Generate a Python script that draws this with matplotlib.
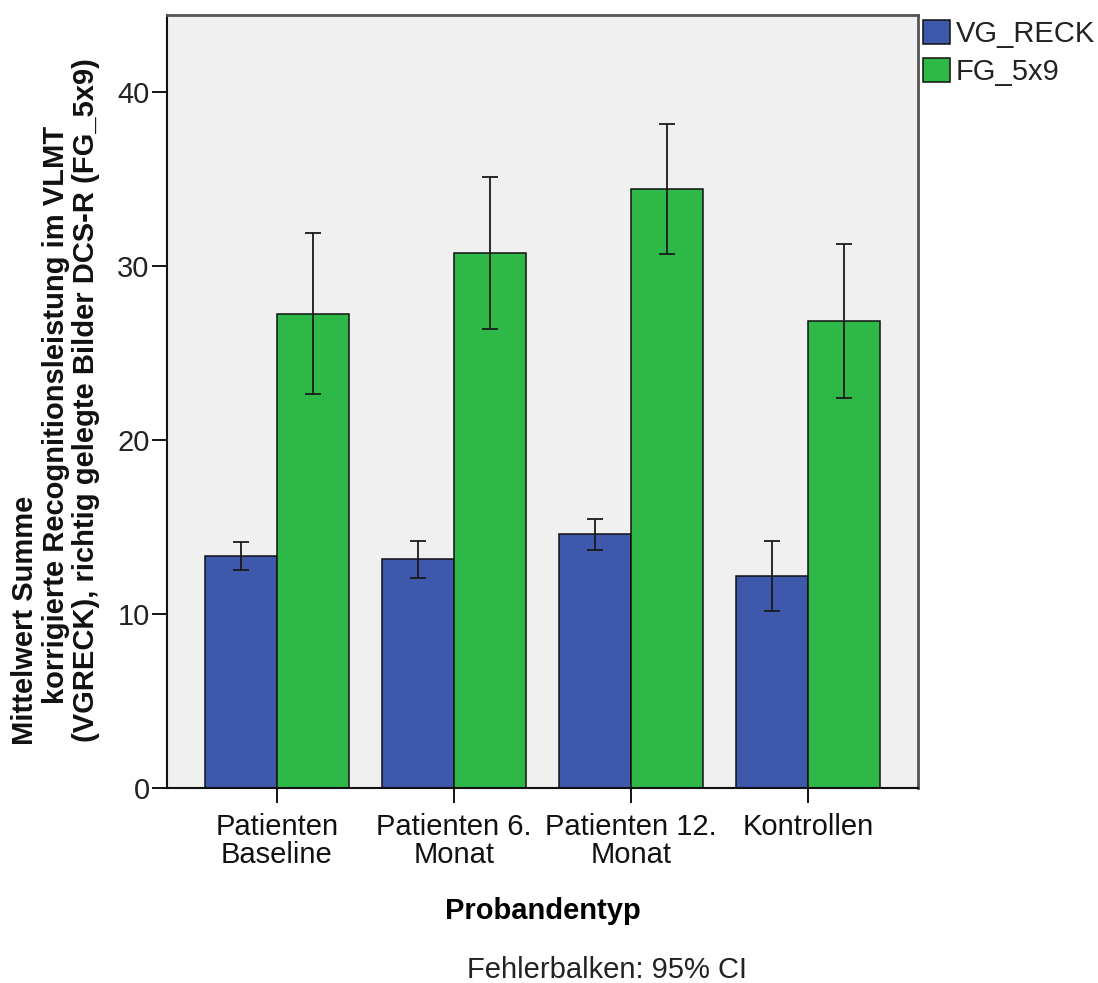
import matplotlib
matplotlib.use("Agg")
import matplotlib.pyplot as plt
import numpy as np

plt.rcParams['font.family'] = ['Liberation Sans', 'DejaVu Sans']

categories = ["Patienten\nBaseline", "Patienten 6.\nMonat", "Patienten 12.\nMonat", "Kontrollen"]
series_names = ["VG_RECK", "FG_5x9"]

vg_mean = [13.33, 13.16, 14.58, 12.18]
vg_ci_low = [12.51, 12.07, 13.68, 10.17]
vg_ci_high = [14.16, 14.21, 15.46, 14.20]

fg_mean = [27.26, 30.76, 34.43, 26.84]
fg_ci_low = [22.63, 26.40, 30.69, 22.43]
fg_ci_high = [31.91, 35.13, 38.16, 31.25]

y_ticks = [0, 10, 20, 30, 40]

colors = ["#3E58AC", "#2EB848"]

FS = 21

W, H = 1098, 983
fig = plt.figure(figsize=(W / 100, H / 100), dpi=100)
fig.patch.set_facecolor("white")

# axes frame in pixel coordinates
left_px, right_px, top_px, bottom_px = 167, 918, 15, 788
ax = fig.add_axes([left_px / W, 1 - bottom_px / H,
                   (right_px - left_px) / W, (bottom_px - top_px) / H])
ax.set_facecolor("#F0F0F0")

x = np.arange(len(categories))
bw = 0.407
means = [vg_mean, fg_mean]
lows = [vg_ci_low, fg_ci_low]
highs = [vg_ci_high, fg_ci_high]
offsets = [-bw / 2, bw / 2]

handles = []
for i in range(2):
    m = np.array(means[i])
    lo = np.array(lows[i])
    hi = np.array(highs[i])
    b = ax.bar(x + offsets[i], m, width=bw, color=colors[i],
               edgecolor="#111111", linewidth=1.1, zorder=2,
               label=series_names[i])
    handles.append(b)
    ax.errorbar(x + offsets[i], m, yerr=[m - lo, hi - m], fmt="none",
                ecolor="#1a1a1a", elinewidth=1.3, capsize=6, capthick=1.3,
                zorder=3)

ax.set_xlim(-0.621, 3.621)
ax.set_ylim(0, 44.43)
ax.set_yticks(y_ticks)
ax.set_yticklabels([str(v) for v in y_ticks], fontsize=FS, color="#222222")
ax.set_xticks(x)
ax.set_xticklabels(categories, fontsize=FS, color="#111111", linespacing=1.0)

ax.tick_params(axis="y", direction="out", length=11, width=1.3, pad=1.5)
ax.tick_params(axis="x", direction="out", length=11, width=1.3, pad=7)

for side in ["left", "bottom"]:
    ax.spines[side].set_color("#111111")
    ax.spines[side].set_linewidth(1.5)
for side in ["top", "right"]:
    ax.spines[side].set_color("#555555")
    ax.spines[side].set_linewidth(2.0)

ax.set_xlabel("Probandentyp", fontsize=FS, fontweight="bold", labelpad=20)

# three-line y-axis title
ylabel_lines = [
    ("Mittelwert Summe", 25, 620),
    ("korrigierte Recognitionsleistung im VLMT", 56, 415),
    ("(VGRECK), richtig gelegte Bilder DCS-R (FG_5x9)", 86, 400),
]
for txt, xp, yp in ylabel_lines:
    fig.text(xp / W, 1 - yp / H, txt, rotation=90, ha="center", va="center",
             fontsize=FS, fontweight="bold", color="#111111")

fig.text(607 / W, 1 - 970 / H, "Fehlerbalken: 95% CI", ha="center",
         va="center", fontsize=FS, color="#222222")

leg = ax.legend(handles=handles, labels=series_names,
                loc="upper left", bbox_to_anchor=(923 / W, 1 - 20 / H),
                bbox_transform=fig.transFigure, frameon=False,
                fontsize=FS, handlelength=0.92, handleheight=0.9,
                labelspacing=0.33, handletextpad=0.2, borderpad=0,
                borderaxespad=0)
for t in leg.get_texts():
    t.set_color("#222222")

fig.savefig("out.png", dpi=100, facecolor="white")
